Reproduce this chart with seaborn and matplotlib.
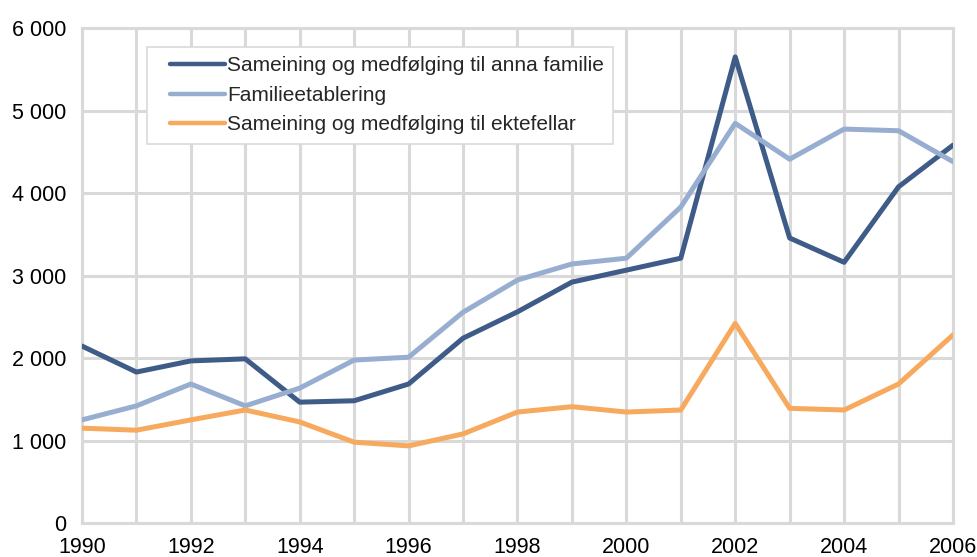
import matplotlib.pyplot as plt
import matplotlib.ticker as mticker
from matplotlib.legend_handler import HandlerLine2D
from matplotlib.lines import Line2D
import pandas as pd
import seaborn as sns

years = list(range(1990, 2007))
anna_familie = [2145, 1830, 1965, 1990, 1465, 1482, 1685, 2240, 2560, 2920,
                3065, 3210, 5650, 3455, 3160, 4075, 4580]
familieetablering = [1250, 1420, 1685, 1420, 1635, 1975, 2010, 2555, 2945, 3140,
                     3210, 3830, 4845, 4410, 4775, 4755, 4380]
ektefellar = [1150, 1125, 1250, 1370, 1225, 980, 935, 1080, 1345, 1410,
              1345, 1370, 2420, 1390, 1370, 1685, 2280]

series_names = ['Sameining og medfølging til anna familie',
                'Familieetablering',
                'Sameining og medfølging til ektefellar']
colors = ['#3F5B87', '#98AED0', '#F7A95D']

df = pd.DataFrame({
    'year': years * 3,
    'value': anna_familie + familieetablering + ektefellar,
    'series': [series_names[0]] * len(years) + [series_names[1]] * len(years)
              + [series_names[2]] * len(years),
})


class IndentedLine(HandlerLine2D):
    # legend line starts a bit right of the frame edge, like Excel does
    def create_artists(self, legend, orig_handle, xdescent, ydescent,
                       width, height, fontsize, trans):
        shift = 0.2 * width
        return super().create_artists(legend, orig_handle, xdescent - shift, ydescent,
                                      width - shift, height, fontsize, trans)


sns.set_style('white')
plt.rcParams['font.family'] = ['Liberation Sans', 'DejaVu Sans']

fig = plt.figure(figsize=(9.78, 5.57), dpi=100)
ax = fig.add_axes([0.0838, 0.061, 0.8906, 0.8887])

sns.lineplot(data=df, x='year', y='value', hue='series', hue_order=series_names,
             palette=colors, linewidth=3.6, ax=ax, zorder=3)

grid_color = '#D9D9D9'
ax.set_xlim(1990, 2006)
ax.set_ylim(0, 6000)
ax.xaxis.set_major_locator(mticker.MultipleLocator(1))
ax.yaxis.set_major_locator(mticker.MultipleLocator(1000))
ax.xaxis.set_major_formatter(mticker.FuncFormatter(
    lambda v, p: f'{int(v)}' if int(round(v)) % 2 == 0 else ''))
ax.yaxis.set_major_formatter(mticker.FuncFormatter(
    lambda v, p: f'{int(v):,}'.replace(',', ' ')))
ax.grid(True, color=grid_color, linewidth=2.2)
for s in ax.spines.values():
    s.set_color(grid_color)
    s.set_linewidth(2.2)
ax.tick_params(axis='both', length=0, labelsize=15.5, colors='black')
ax.tick_params(axis='x', pad=10)
ax.tick_params(axis='y', pad=11)
ax.set_xlabel('')
ax.set_ylabel('')

handles, labels = ax.get_legend_handles_labels()
for h in handles:
    h.set_linewidth(3.2)
    h.set_solid_capstyle('round')
leg = ax.legend(handles, labels, loc='upper left', bbox_to_anchor=(0.0746, 0.9616),
                fontsize=15, frameon=True, fancybox=False, handlelength=3.3,
                handletextpad=0.1, borderpad=0.45, labelspacing=0.5, borderaxespad=0,
                handler_map={Line2D: IndentedLine()})
leg.get_frame().set_edgecolor(grid_color)
leg.get_frame().set_linewidth(1.2)
leg.get_frame().set_alpha(1)

fig.savefig('out.png', dpi=100)
